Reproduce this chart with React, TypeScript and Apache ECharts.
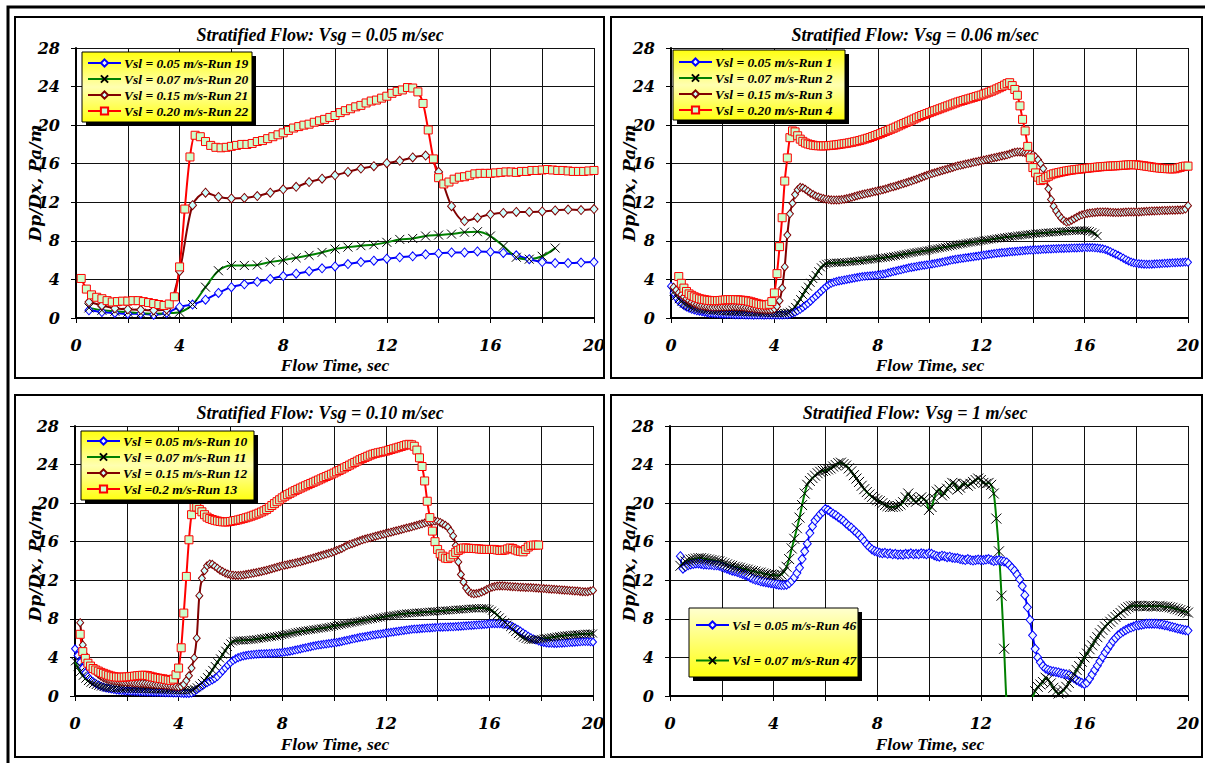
import React, { useEffect, useRef } from 'react';
import * as echarts from 'echarts';

// ---------- DATA ----------
const xTicks = [0, 4, 8, 12, 16, 20];
const titles = [
  'Stratified Flow: Vsg = 0.05 m/sec',
  'Stratified Flow: Vsg = 0.06 m/sec',
  'Stratified Flow: Vsg = 0.10 m/sec',
  'Stratified Flow: Vsg = 1 m/sec',
];
const xName = 'Flow Time, sec';
const yName = 'Dp/Dx, Pa/m';

// Panel 1 (Vsg = 0.05)
const p1Names = ['Vsl = 0.05 m/s-Run 19', 'Vsl = 0.07 m/s-Run 20', 'Vsl = 0.15 m/s-Run 21', 'Vsl = 0.20 m/s-Run 22'];
const p1Run19 = [0.8,0.62,0.52,0.45,0.45,0.35,0.52,1.15,1.4,1.9,2.6,3.2,3.5,3.75,4.05,4.35,4.6,4.85,5.15,5.35,5.6,5.8,5.95,6.15,6.3,6.4,6.6,6.7,6.8,6.8,6.9,6.85,6.75,6.5,6.1,5.8,5.7,5.7,5.75,5.8];
const p1Run20 = [1.05,0.8,0.7,0.6,0.5,0.45,0.5,0.6,1.4,3.2,4.9,5.45,5.45,5.5,5.8,6.0,6.25,6.5,6.8,7.15,7.35,7.5,7.6,7.85,8.15,8.25,8.5,8.6,8.7,8.9,8.95,8.5,7.45,6.3,6.1,6.4,7.25];
const p1Run21 = [1.65,1.3,1.0,0.9,0.85,0.8,0.9,4.85,11.7,13.0,12.55,12.4,12.45,12.65,13.0,13.35,13.6,14.1,14.45,14.8,15.15,15.5,15.75,16.05,16.3,16.65,16.85,15.15,11.6,10.05,10.4,10.75,10.9,11.0,11.0,11.05,11.15,11.25,11.2,11.3];
const p1Run22 = [4.1,3.0,2.4,2.15,2.0,1.8,1.66,1.7,1.75,1.75,
  1.8,1.8,1.7,1.6,1.5,1.4,1.3,1.45,2.2,5.3,
  11.3,16.7,18.95,18.8,18.3,17.9,17.7,17.65,17.7,17.8,
  17.9,18.0,18.0,18.1,18.3,18.4,18.6,18.8,19.0,19.2,
  19.45,19.7,19.85,20.0,20.1,20.3,20.45,20.6,20.8,21.0,
  21.3,21.5,21.7,21.9,22.05,22.3,22.5,22.6,22.8,23.0,
  23.3,23.5,23.65,23.9,23.85,23.45,22.25,19.5,16.5,14.55,
  13.9,14.1,14.4,14.6,14.65,14.8,14.95,15.0,15.0,15.0,
  15.05,15.1,15.15,15.15,15.1,15.2,15.2,15.3,15.3,15.35,
  15.4,15.35,15.3,15.3,15.25,15.2,15.2,15.2,15.25,15.3];

// Panel 2 (Vsg = 0.06), sampled every 0.1 s
const p2Names = ['Vsl = 0.05 m/s-Run 1', 'Vsl = 0.07 m/s-Run 2', 'Vsl = 0.15 m/s-Run 3', 'Vsl = 0.20 m/s-Run 4'];
const p2Run1 = [3.3,
  2.6,2.1,1.75,1.5,1.3,1.15,1.0,0.9,0.82,0.75,
  0.7,0.65,0.6,0.55,0.5,0.48,0.46,0.44,0.42,0.4,
  0.4,0.38,0.38,0.36,0.35,0.35,0.34,0.33,0.32,0.32,
  0.3,0.29,0.3,0.31,0.3,0.29,0.3,0.3,0.31,0.3,
  0.3,0.3,0.32,0.33,0.35,0.4,0.5,0.6,0.75,0.9,
  1.1,1.3,1.5,1.75,2.0,2.25,2.5,2.75,3.0,3.25,
  3.45,3.6,3.7,3.78,3.85,3.9,3.95,4.0,4.05,4.1,
  4.15,4.2,4.25,4.3,4.32,4.35,4.38,4.4,4.43,4.45,
  4.5,4.55,4.6,4.68,4.75,4.82,4.88,4.95,5.0,5.07,
  5.13,5.2,5.25,5.3,5.35,5.4,5.44,5.48,5.52,5.55,
  5.6,5.65,5.7,5.75,5.8,5.86,5.92,5.98,6.03,6.08,
  6.12,6.16,6.2,6.24,6.28,6.32,6.36,6.4,6.44,6.48,
  6.52,6.56,6.6,6.64,6.68,6.72,6.75,6.78,6.8,6.83,
  6.86,6.88,6.9,6.92,6.95,6.97,7.0,7.02,7.04,7.05,
  7.07,7.08,7.1,7.12,7.13,7.15,7.16,7.18,7.19,7.2,
  7.21,7.22,7.23,7.24,7.25,7.26,7.27,7.28,7.29,7.3,
  7.3,7.3,7.3,7.28,7.25,7.22,7.18,7.1,7.0,6.88,
  6.75,6.62,6.5,6.35,6.2,6.05,5.92,5.8,5.72,5.67,
  5.63,5.6,5.58,5.57,5.57,5.58,5.6,5.62,5.63,5.65,
  5.67,5.69,5.7,5.72,5.74,5.75,5.76,5.78,5.8,5.78];
const p2Run2 = [2.7,2.3,1.95,1.7,1.5,1.35,1.22,1.12,1.04,0.98,
  0.93,0.89,0.86,0.83,0.8,0.78,0.76,0.74,0.72,0.7,
  0.69,0.68,0.67,0.66,0.65,0.64,0.63,0.62,0.61,0.6,
  0.59,0.58,0.57,0.56,0.55,0.54,0.53,0.52,0.51,0.5,
  0.5,0.5,0.5,0.52,0.56,0.65,0.85,1.15,1.55,1.95,
  2.4,2.85,3.25,3.65,4.05,4.45,4.85,5.25,5.5,5.62,
  5.68,5.71,5.73,5.74,5.75,5.76,5.78,5.8,5.82,5.85,
  5.88,5.9,5.93,5.96,6.0,6.03,6.06,6.1,6.13,6.17,
  6.2,6.24,6.28,6.32,6.36,6.4,6.45,6.5,6.55,6.6,
  6.65,6.7,6.75,6.8,6.84,6.88,6.92,6.96,7.0,7.04,
  7.1,7.15,7.2,7.25,7.3,7.35,7.4,7.45,7.5,7.55,
  7.6,7.65,7.7,7.75,7.8,7.84,7.88,7.92,7.96,8.0,
  8.04,8.08,8.12,8.16,8.2,8.24,8.28,8.32,8.36,8.4,
  8.43,8.46,8.5,8.53,8.56,8.6,8.63,8.66,8.7,8.72,
  8.75,8.77,8.8,8.82,8.84,8.86,8.88,8.9,8.92,8.94,
  8.96,8.98,9.0,9.02,9.04,9.05,9.06,9.07,9.08,9.08,
  9.05,9.0,8.9,8.75,8.5];
const p2Run3 = [3.2,2.9,2.6,2.4,2.2,2.0,1.8,1.65,1.5,1.4,
  1.32,1.26,1.22,1.18,1.15,1.14,1.13,1.13,1.14,1.15,
  1.15,1.16,1.16,1.17,1.17,1.16,1.15,1.12,1.08,1.04,
  1.0,0.97,0.94,0.92,0.9,0.88,0.86,0.86,0.88,0.95,
  1.2,1.8,3.1,5.3,8.6,10.8,11.9,12.8,13.3,13.55,
  13.5,13.35,13.15,12.95,12.8,12.65,12.55,12.45,12.38,12.32,
  12.28,12.25,12.24,12.24,12.25,12.28,12.32,12.38,12.45,12.52,
  12.6,12.68,12.75,12.82,12.88,12.94,13.0,13.06,13.12,13.18,
  13.24,13.3,13.38,13.46,13.55,13.62,13.7,13.78,13.86,13.95,
  14.03,14.12,14.2,14.3,14.4,14.5,14.6,14.7,14.8,14.9,
  14.98,15.06,15.14,15.22,15.3,15.38,15.46,15.54,15.62,15.7,
  15.78,15.84,15.9,15.96,16.02,16.08,16.14,16.2,16.26,16.32,
  16.38,16.44,16.5,16.56,16.62,16.68,16.74,16.8,16.86,16.92,
  17.0,17.1,17.18,17.22,17.22,17.2,17.15,17.1,17.02,16.92,
  16.7,16.4,16.0,15.5,14.6,13.4,12.3,11.6,11.1,10.7,
  10.35,10.1,9.95,10.0,10.15,10.3,10.45,10.6,10.7,10.78,
  10.84,10.88,10.92,10.95,10.98,11.0,11.0,11.0,10.98,10.96,
  10.95,10.94,10.94,10.95,10.96,10.98,11.0,11.0,11.0,11.0,
  11.0,11.02,11.04,11.06,11.08,11.1,11.1,11.12,11.12,11.14,
  11.15,11.16,11.17,11.18,11.18,11.2,11.2,11.22,11.3,11.65];
const p2Run4 = [4.3,3.6,3.1,2.75,2.5,2.35,2.2,2.1,
  2.0,1.95,1.9,1.85,1.82,1.8,1.8,1.8,1.82,1.85,
  1.88,1.9,1.9,1.9,1.9,1.88,1.86,1.83,1.8,1.75,
  1.68,1.6,1.52,1.45,1.4,1.36,1.35,1.42,1.7,2.6,
  4.6,7.4,10.4,14.2,16.6,18.7,19.4,19.3,18.9,18.55,
  18.32,18.15,18.05,17.98,17.92,17.88,17.86,17.85,17.85,17.86,
  17.88,17.9,17.93,17.96,18.0,18.04,18.08,18.12,18.17,18.22,
  18.28,18.34,18.4,18.48,18.56,18.64,18.72,18.82,18.92,19.02,
  19.12,19.24,19.35,19.46,19.57,19.68,19.8,19.92,20.04,20.16,
  20.28,20.4,20.52,20.64,20.76,20.88,21.0,21.1,21.2,21.3,
  21.4,21.5,21.6,21.7,21.8,21.9,22.0,22.1,22.2,22.3,
  22.4,22.48,22.56,22.64,22.72,22.8,22.88,22.96,23.04,23.12,
  23.22,23.32,23.42,23.52,23.64,23.76,23.88,24.0,24.15,24.3,
  24.4,24.1,23.7,23.1,22.0,20.6,19.4,17.8,16.6,15.6,
  15.05,14.6,14.25,14.35,14.55,14.7,14.85,14.95,15.02,15.08,
  15.14,15.2,15.25,15.3,15.34,15.38,15.41,15.44,15.47,15.5,
  15.53,15.56,15.59,15.62,15.65,15.68,15.7,15.72,15.74,15.76,
  15.77,15.78,15.8,15.82,15.84,15.86,15.88,15.9,15.9,15.88,
  15.85,15.82,15.78,15.74,15.7,15.66,15.62,15.58,15.55,15.52,
  15.5,15.48,15.47,15.46,15.48,15.55,15.62,15.7,15.75,15.75];

// Panel 3 (Vsg = 0.10), sampled every 0.1 s
const p3Names = ['Vsl = 0.05 m/s-Run 10', 'Vsl = 0.07 m/s-Run 11', 'Vsl = 0.15 m/s-Run 12', 'Vsl =0.2 m/s-Run 13'];
const p3Run10 = [4.9,
  4.2,3.5,2.9,2.4,2.0,1.7,1.48,1.3,1.15,1.02,
  0.92,0.84,0.78,0.72,0.67,0.63,0.6,0.57,0.55,0.53,
  0.51,0.49,0.48,0.46,0.45,0.44,0.43,0.42,0.41,0.4,
  0.39,0.38,0.37,0.36,0.35,0.34,0.33,0.32,0.31,0.3,
  0.28,0.27,0.26,0.26,0.3,0.45,0.65,0.85,1.05,1.22,
  1.38,1.52,1.66,1.82,2.02,2.3,2.6,2.9,3.2,3.45,
  3.68,3.85,3.98,4.08,4.15,4.2,4.24,4.28,4.31,4.34,
  4.36,4.38,4.39,4.4,4.41,4.42,4.44,4.46,4.49,4.52,
  4.56,4.6,4.65,4.7,4.76,4.82,4.88,4.94,5.0,5.06,
  5.12,5.18,5.23,5.28,5.32,5.36,5.4,5.44,5.48,5.52,
  5.56,5.6,5.66,5.72,5.78,5.84,5.9,5.96,6.02,6.08,
  6.12,6.17,6.22,6.27,6.32,6.36,6.4,6.44,6.48,6.52,
  6.56,6.6,6.64,6.68,6.72,6.76,6.8,6.84,6.88,6.92,
  6.94,6.96,6.98,7.0,7.02,7.04,7.06,7.08,7.1,7.12,
  7.13,7.14,7.15,7.16,7.17,7.18,7.2,7.22,7.24,7.26,
  7.28,7.3,7.32,7.34,7.36,7.38,7.4,7.42,7.45,7.48,
  7.5,7.5,7.5,7.5,7.48,7.45,7.4,7.32,7.2,7.05,
  6.9,6.74,6.55,6.38,6.2,6.05,5.92,5.8,5.7,5.6,
  5.55,5.5,5.48,5.46,5.45,5.45,5.46,5.48,5.5,5.52,
  5.54,5.56,5.58,5.6,5.62,5.64,5.65,5.65,5.62,5.6];
const p3Run11 = [3.6,
  3.0,2.5,2.1,1.8,1.55,1.38,1.25,1.14,1.05,0.98,
  0.93,0.88,0.85,0.82,0.8,0.78,0.77,0.76,0.75,0.75,
  0.75,0.74,0.74,0.73,0.73,0.72,0.72,0.71,0.7,0.7,
  0.69,0.68,0.67,0.66,0.65,0.64,0.63,0.62,0.61,0.6,
  0.6,0.6,0.6,0.6,0.65,0.75,0.9,1.1,1.35,1.6,
  1.95,2.3,2.7,3.1,3.5,3.9,4.3,4.7,5.1,5.45,
  5.65,5.72,5.75,5.76,5.77,5.78,5.8,5.83,5.86,5.9,
  5.94,5.98,6.02,6.06,6.1,6.14,6.18,6.22,6.27,6.32,
  6.37,6.42,6.48,6.54,6.6,6.65,6.7,6.74,6.78,6.82,
  6.86,6.9,6.94,6.98,7.02,7.06,7.1,7.15,7.2,7.25,
  7.3,7.35,7.4,7.45,7.5,7.55,7.6,7.65,7.7,7.75,
  7.8,7.85,7.9,7.95,8.0,8.05,8.1,8.15,8.2,8.25,
  8.3,8.34,8.38,8.42,8.46,8.5,8.53,8.56,8.58,8.6,
  8.62,8.64,8.66,8.68,8.7,8.72,8.74,8.76,8.78,8.8,
  8.82,8.84,8.86,8.88,8.9,8.92,8.94,8.96,8.98,9.0,
  9.02,9.04,9.06,9.08,9.1,9.12,9.12,9.1,9.05,9.0,
  8.85,8.65,8.4,8.15,7.9,7.65,7.4,7.15,6.9,6.65,
  6.42,6.22,6.05,5.92,5.85,5.82,5.82,5.85,5.88,5.92,
  5.96,6.0,6.04,6.08,6.12,6.16,6.2,6.24,6.27,6.3,
  6.33,6.35,6.37,6.39,6.41,6.43,6.45,6.46,6.47,6.48];
const p3Run12 = [7.6,5.3,4.2,3.6,3.1,2.75,2.5,2.25,2.05,
  1.9,1.8,1.72,1.65,1.6,1.55,1.51,1.48,1.45,1.42,
  1.4,1.38,1.36,1.34,1.32,1.3,1.28,1.25,1.22,1.2,
  1.18,1.16,1.14,1.12,1.1,1.08,1.05,1.0,0.96,0.95,
  1.0,1.2,1.6,2.1,2.9,3.95,6.0,10.4,12.2,13.0,
  13.5,13.7,13.65,13.45,13.25,13.05,12.9,12.75,12.65,12.58,
  12.53,12.5,12.5,12.52,12.56,12.6,12.65,12.7,12.75,12.8,
  12.86,12.92,12.98,13.05,13.12,13.2,13.28,13.36,13.44,13.5,
  13.56,13.62,13.68,13.74,13.8,13.86,13.92,14.0,14.08,14.16,
  14.24,14.32,14.4,14.48,14.56,14.64,14.72,14.8,14.88,14.96,
  15.1,15.2,15.3,15.45,15.6,15.7,15.8,15.9,16.0,16.1,
  16.2,16.28,16.35,16.42,16.5,16.57,16.64,16.71,16.78,16.85,
  16.92,16.99,17.06,17.13,17.2,17.27,17.34,17.41,17.48,17.55,
  17.62,17.7,17.78,17.86,17.94,18.02,18.08,18.12,18.14,18.12,
  18.0,17.85,17.7,17.5,17.1,16.6,15.6,13.9,12.6,11.8,
  11.2,10.85,10.65,10.6,10.62,10.68,10.78,10.9,11.05,11.18,
  11.28,11.35,11.4,11.42,11.42,11.4,11.38,11.36,11.34,11.32,
  11.3,11.28,11.27,11.26,11.25,11.24,11.22,11.2,11.18,11.16,
  11.14,11.12,11.1,11.08,11.06,11.04,11.02,11.0,10.98,10.96,
  10.94,10.92,10.9,10.88,10.85,10.82,10.8,10.82,10.88,10.95];
const p3Run13 = [6.4,4.6,3.9,3.4,3.1,2.85,2.7,2.58,2.45,
  2.35,2.25,2.15,2.07,2.0,1.97,1.95,1.95,1.96,1.98,
  2.0,2.03,2.06,2.1,2.13,2.15,2.15,2.12,2.05,1.98,
  1.92,1.86,1.82,1.78,1.72,1.66,1.62,1.75,2.2,2.9,
  5.0,8.6,12.4,16.2,18.8,19.6,19.6,19.35,19.1,18.8,
  18.55,18.4,18.3,18.22,18.15,18.1,18.06,18.05,18.06,18.1,
  18.15,18.2,18.26,18.33,18.4,18.48,18.56,18.65,18.75,18.85,
  18.96,19.08,19.2,19.35,19.55,19.75,19.95,20.15,20.35,20.55,
  20.72,20.88,21.02,21.16,21.3,21.43,21.56,21.68,21.8,21.92,
  22.04,22.16,22.28,22.4,22.52,22.64,22.76,22.88,23.0,23.12,
  23.25,23.38,23.52,23.66,23.8,23.94,24.08,24.22,24.36,24.5,
  24.62,24.74,24.86,24.98,25.08,25.16,25.22,25.28,25.34,25.4,
  25.48,25.56,25.64,25.72,25.8,25.88,25.96,26.05,26.1,26.05,
  25.9,25.5,24.7,23.8,22.3,20.2,18.5,17.1,16.0,15.2,
  14.75,14.5,14.3,14.25,14.4,14.65,14.9,15.1,15.25,15.35,
  15.35,15.32,15.3,15.3,15.28,15.25,15.22,15.2,15.2,15.2,
  15.2,15.2,15.15,15.1,15.1,15.15,15.25,15.35,15.3,15.15,
  15.05,15.0,14.95,15.2,15.45,15.6,15.65,15.65,15.65];

// Panel 4 (Vsg = 1), sampled every 0.1 s
const p4Names = ['Vsl = 0.05 m/s-Run 46', 'Vsl = 0.07 m/s-Run 47'];
const p4Run46 = [14.5,13.2,13.4,13.55,13.65,13.7,13.75,
  13.75,13.7,13.65,13.65,13.6,13.6,13.55,13.55,13.5,13.4,
  13.3,13.2,13.1,13.0,12.95,12.85,12.75,12.65,12.55,12.45,
  12.3,12.15,12.05,12.0,11.9,11.85,11.8,11.75,11.7,11.65,
  11.6,11.55,11.5,11.5,11.55,11.7,11.95,12.3,12.75,13.3,
  14.2,15.0,15.8,16.9,17.6,18.2,18.5,18.85,19.1,19.4,
  19.3,19.1,18.9,18.75,18.55,18.35,18.15,17.9,17.65,17.45,
  17.2,16.95,16.7,16.4,16.05,15.7,15.45,15.2,15.05,14.95,
  14.85,14.8,14.85,14.75,14.8,14.7,14.75,14.65,14.7,14.65,
  14.75,14.7,14.8,14.7,14.75,14.7,14.8,14.75,14.7,14.8,
  14.75,14.6,14.5,14.45,14.55,14.5,14.4,14.45,14.35,14.3,
  14.3,14.2,14.15,14.1,14.2,14.1,14.05,14.1,14.15,14.1,
  14.1,14.15,14.2,14.1,14.0,14.05,14.1,14.0,13.95,13.85,
  13.6,13.3,13.0,12.6,12.1,11.4,10.45,9.2,7.9,6.3,
  4.9,4.0,3.5,3.1,2.85,2.7,2.6,2.55,2.5,2.45,
  2.35,2.3,2.25,2.15,2.0,1.85,1.65,1.5,1.35,1.25,
  1.4,1.8,2.25,2.7,3.15,3.6,4.05,4.5,4.9,5.3,
  5.7,6.0,6.3,6.5,6.7,6.85,7.0,7.1,7.2,7.3,
  7.35,7.4,7.45,7.5,7.5,7.5,7.5,7.48,7.45,7.42,
  7.35,7.3,7.22,7.15,7.08,7.0,6.95,6.88,6.82,6.78];
const p4Run47 = [13.5,13.75,13.95,14.05,14.15,14.2,14.25,
  14.3,14.3,14.25,14.2,14.15,14.1,14.05,14.0,13.95,13.85,
  13.75,13.65,13.55,13.5,13.4,13.35,13.3,13.2,13.15,13.1,
  13.0,12.95,12.9,12.8,12.8,12.7,12.65,12.6,12.55,12.55,
  12.5,12.5,12.6,12.9,13.4,14.2,15.3,16.3,17.4,18.5,
  19.8,21.0,21.9,22.3,22.6,22.85,23.1,23.25,23.35,23.4,
  23.5,23.6,23.8,23.95,24.15,24.2,24.05,23.9,23.6,23.3,
  22.9,22.55,22.2,21.8,21.45,21.15,20.9,20.65,20.45,20.3,
  20.2,20.0,19.8,19.7,19.6,19.6,19.65,19.7,19.85,20.1,
  20.6,21.0,20.6,20.3,20.15,20.35,20.6,20.4,20.2,19.3,
  19.6,20.5,21.2,21.4,20.8,21.0,21.5,21.8,22.1,22.0,
  21.4,21.6,22.0,22.0,21.8,22.0,22.2,22.4,22.55,22.4,
  22.1,22.0,22.1,21.9,21.0,18.4,15.0,10.4,4.9,-1.0,
  -4,-7,-9,-10,-10,-9,-7,-5,-2.5,-0.2,
  0.5,0.95,1.2,1.45,1.9,1.7,1.3,0.85,0.45,0.25,
  0.35,0.6,0.95,1.35,1.8,2.25,2.7,3.1,3.55,4.0,
  4.4,4.85,5.25,5.7,6.1,6.5,6.85,7.2,7.5,7.7,
  7.95,8.2,8.4,8.6,8.85,9.05,9.2,9.3,9.35,9.35,
  9.35,9.35,9.3,9.3,9.35,9.3,9.3,9.3,9.35,9.3,
  9.25,9.25,9.2,9.15,9.05,9.0,8.9,8.8,8.75,8.65];

// ---------- LAYOUT / STYLE ----------
const GRIDS = [
  { left: 76, top: 48, width: 518, height: 270 },
  { left: 671, top: 48, width: 517, height: 270 },
  { left: 75, top: 426, width: 518, height: 270 },
  { left: 670, top: 426, width: 518, height: 270 },
];
const PANELS = [
  { x: 15, y: 17, w: 589, h: 361 },
  { x: 611, y: 17, w: 591, h: 361 },
  { x: 15, y: 395, w: 589, h: 362 },
  { x: 611, y: 395, w: 591, h: 362 },
];
const TITLE_POS = [[320, 35], [915, 35], [320, 413], [915, 413]];
const YNAME_POS = [[35, 183], [629, 183], [35, 563], [629, 563]];
const XNAME_POS = [[335, 364.5], [930, 364.5], [335, 743.5], [930, 743.5]];
const LEG_BOX = [
  { x: 82, y: 52, w: 170, h: 70 },
  { x: 673, y: 50, w: 172, h: 70 },
  { x: 81, y: 431, w: 173, h: 69 },
  { x: 689, y: 608, w: 169, h: 69 },
];
const LEG_POS = [
  { left: 87, top: 56, gap: 2 },
  { left: 678, top: 55, gap: 2 },
  { left: 86, top: 434, gap: 2 },
  { left: 695, top: 618, gap: 21.5 },
];

const X_SYMBOL = 'path://M0,0L10,10M10,0L0,10';
const KIND: Record<string, any> = {
  blue: { line: '#0000ff', symbol: 'diamond', fill: '#eef6ff', border: '#0000ff' },
  green: { line: '#008000', symbol: X_SYMBOL, fill: '#000000', border: '#000000' },
  brown: { line: '#800000', symbol: 'diamond', fill: '#ccffff', border: '#800000' },
  red: { line: '#ff0000', symbol: 'rect', fill: '#ccffcc', border: '#ff0000' },
};

function pts(start: number, step: number, vals: number[]) {
  return vals.map((v, i) => [Math.round((start + i * step) * 100) / 100, v]);
}

function mk(name: string, g: number, data: number[][], kind: string, size: any) {
  const s = KIND[kind];
  return {
    type: 'line',
    name,
    xAxisIndex: g,
    yAxisIndex: g,
    data,
    smooth: 0.3,
    clip: true,
    symbol: s.symbol,
    symbolSize: size,
    showAllSymbol: true,
    lineStyle: { color: s.line, width: 2 },
    itemStyle: { color: s.fill, borderColor: s.border, borderWidth: 1 },
    emphasis: { disabled: true },
  };
}

const labelFont = {
  fontFamily: 'DejaVu Serif',
  fontSize: 16,
  fontStyle: 'italic',
  fontWeight: 'bold',
  color: '#000',
};

function xAxisCfg(i: number) {
  return {
    type: 'value',
    gridIndex: i,
    min: 0,
    max: 20,
    interval: 2,
    axisLine: { show: true, onZero: false, lineStyle: { color: '#000', width: 2 } },
    axisTick: { show: true, length: 5, lineStyle: { color: '#000', width: 1 } },
    axisLabel: {
      ...labelFont,
      margin: 19,
      lineHeight: 16,
      formatter: (v: number) => (xTicks.indexOf(v) >= 0 ? String(v) : ''),
    },
    splitLine: { show: true, lineStyle: { color: '#111', width: 1 } },
  };
}
function yAxisCfg(i: number) {
  return {
    type: 'value',
    gridIndex: i,
    min: 0,
    max: 28,
    interval: 4,
    axisLine: { show: true, lineStyle: { color: '#000', width: 2 } },
    axisTick: { show: true, length: 5, lineStyle: { color: '#000', width: 1 } },
    axisLabel: { ...labelFont, margin: 16 },
    splitLine: { show: true, lineStyle: { color: '#111', width: 1 } },
  };
}

const legendText = {
  fontFamily: 'Liberation Serif',
  fontSize: 13.5,
  fontStyle: 'italic',
  fontWeight: 'bold',
  color: '#000',
  lineHeight: 14,
  padding: [0, 0, 0, -2],
};

export default function App() {
  const ref = useRef<HTMLDivElement>(null);
  useEffect(() => {
    if (!ref.current) return;
    const chart = echarts.init(ref.current, undefined, { renderer: 'svg' });

    const series = [
      mk(p1Names[0], 0, pts(0.5, 0.5, p1Run19), 'blue', [8, 9]),
      mk(p1Names[1], 0, pts(0.5, 0.5, p1Run20), 'green', 9),
      mk(p1Names[2], 0, pts(0.5, 0.5, p1Run21), 'brown', [8, 9]),
      mk(p1Names[3], 0, pts(0.2, 0.2, p1Run22), 'red', 8),
      mk(p2Names[0], 1, pts(0.0, 0.1, p2Run1), 'blue', [7, 8]),
      mk(p2Names[1], 1, pts(0.1, 0.1, p2Run2), 'green', 8),
      mk(p2Names[2], 1, pts(0.1, 0.1, p2Run3), 'brown', [7, 8]),
      mk(p2Names[3], 1, pts(0.3, 0.1, p2Run4), 'red', 8),
      mk(p3Names[0], 2, pts(0.0, 0.1, p3Run10), 'blue', [7, 8]),
      mk(p3Names[1], 2, pts(0.0, 0.1, p3Run11), 'green', 8),
      mk(p3Names[2], 2, pts(0.2, 0.1, p3Run12), 'brown', [7, 8]),
      mk(p3Names[3], 2, pts(0.2, 0.1, p3Run13), 'red', 8),
      mk(p4Names[0], 3, pts(0.4, 0.1, p4Run46), 'blue', [8, 9]),
      mk(p4Names[1], 3, pts(0.4, 0.1, p4Run47), 'green', 10),
    ];

    const legNames = [p1Names, p2Names, p3Names, p4Names];
    const legend = legNames.map((names, i) => ({
      data: names,
      orient: 'vertical',
      left: LEG_POS[i].left,
      top: LEG_POS[i].top,
      padding: 0,
      itemGap: LEG_POS[i].gap,
      itemWidth: 33,
      itemHeight: 9,
      selectedMode: false,
      textStyle: legendText,
      z: 6,
    }));

    const elements: any[] = [];
    elements.push({
      type: 'rect', silent: true, z: 1,
      shape: { x: 8, y: 7, width: 1215, height: 780 },
      style: { fill: 'transparent', stroke: '#000', lineWidth: 3 },
    });
    PANELS.forEach((p) => {
      elements.push({
        type: 'rect', silent: true, z: 1,
        shape: { x: p.x, y: p.y, width: p.w, height: p.h },
        style: { fill: 'transparent', stroke: '#000', lineWidth: 2 },
      });
    });
    LEG_BOX.forEach((b, i) => {
      const stops = i === 3
        ? [{ offset: 0, color: '#ffffd0' }, { offset: 1, color: '#ffff10' }]
        : [{ offset: 0, color: '#ffff10' }, { offset: 0.5, color: '#ffffb0' }, { offset: 1, color: '#ffff10' }];
      elements.push({
        type: 'rect', silent: true, z: 4,
        shape: { x: b.x + 4, y: b.y + 4, width: b.w, height: b.h },
        style: { fill: '#000' },
      });
      elements.push({
        type: 'rect', silent: true, z: 5,
        shape: { x: b.x, y: b.y, width: b.w, height: b.h },
        style: {
          fill: new echarts.graphic.LinearGradient(0, 0, 0, 1, stops),
          stroke: '#000', lineWidth: 1,
        },
      });
    });
    titles.forEach((t, i) => {
      elements.push({
        type: 'text', silent: true, z: 5,
        x: TITLE_POS[i][0], y: TITLE_POS[i][1],
        style: {
          text: t, font: 'italic bold 18px "Liberation Serif"', fill: '#000',
          align: 'center', verticalAlign: 'middle',
        },
      });
      elements.push({
        type: 'text', silent: true, z: 5,
        x: YNAME_POS[i][0], y: YNAME_POS[i][1], rotation: Math.PI / 2,
        style: {
          text: yName, font: 'italic bold 17px "DejaVu Serif"', fill: '#000',
          align: 'center', verticalAlign: 'middle',
        },
      });
      elements.push({
        type: 'text', silent: true, z: 5,
        x: XNAME_POS[i][0], y: XNAME_POS[i][1],
        style: {
          text: xName, font: 'italic bold 17.5px "Liberation Serif"', fill: '#000',
          align: 'center', verticalAlign: 'middle',
        },
      });
    });

    chart.setOption({
      animation: false,
      backgroundColor: '#ffffff',
      textStyle: { fontFamily: 'Liberation Serif' },
      grid: GRIDS.map((g) => ({ ...g, containLabel: false })),
      xAxis: [0, 1, 2, 3].map(xAxisCfg),
      yAxis: [0, 1, 2, 3].map(yAxisCfg),
      legend,
      series,
      graphic: { elements },
    });
    return () => chart.dispose();
  }, []);

  return (
    <div
      ref={ref}
      style={{ position: 'absolute', left: 0, top: 0, width: 1205, height: 763, background: '#fff' }}
    />
  );
}
